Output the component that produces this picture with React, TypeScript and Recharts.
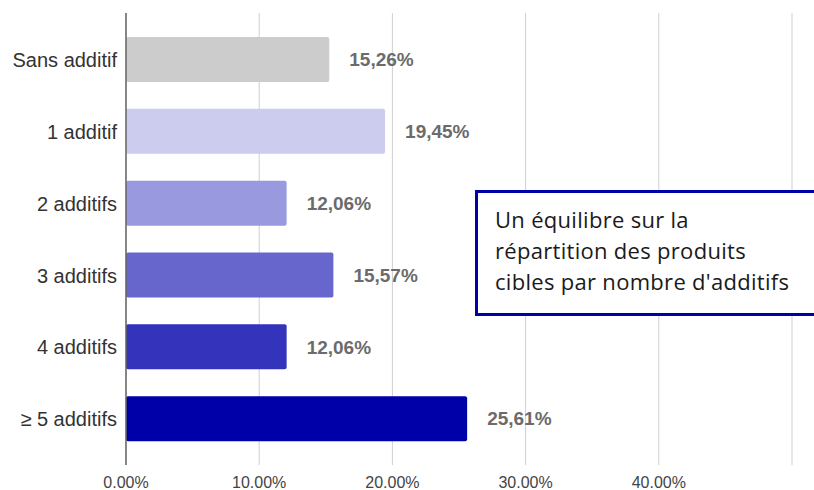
import { BarChart, Bar, XAxis, YAxis, CartesianGrid, Cell, LabelList } from "recharts";

const CATEGORIES = ["Sans additif", "1 additif", "2 additifs", "3 additifs", "4 additifs", "≥ 5 additifs"];
const SHARES = [15.26, 19.45, 12.06, 15.57, 12.06, 25.61];
const X_TICKS = [0, 10, 20, 30, 40, 50];
const X_TICK_LABELS = ["0.00%", "10.00%", "20.00%", "30.00%", "40.00%", ""];
const NOTE_LINES = ["Un équilibre sur la", "répartition des produits", "cibles par nombre d'additifs"];

const COLORS = [
  "#cccccc", // sans additif
  "#ccccef",
  "#9999e0",
  "#6666cc",
  "#3333bb",
  "#0000a8",
];

const data = CATEGORIES.map((name, i) => ({ name, share: SHARES[i] }));

export default function App() {
  return (
    <div style={{ position: "absolute", left: 0, top: 0, width: 814, height: 490, background: "#fff", overflow: "hidden" }}>
      <BarChart
        width={814}
        height={490}
        data={data}
        layout="vertical"
        margin={{ top: 13, right: 22, bottom: 0, left: 0 }}
      >
        <CartesianGrid horizontal={false} stroke="#cfcfcf" />
        <XAxis
          type="number"
          domain={[0, 50]}
          ticks={X_TICKS}
          tickFormatter={(v: number) => X_TICK_LABELS[X_TICKS.indexOf(v)] ?? ""}
          axisLine={false}
          tickLine={false}
          tickMargin={6}
          height={25}
          interval={0}
          tick={{ fontSize: 16, fill: "#444", fontFamily: "Liberation Sans, Arial, sans-serif" }}
        />
        <YAxis
          type="category"
          dataKey="name"
          width={126}
          padding={{ top: 11, bottom: 10 }}
          axisLine={{ stroke: "#666", strokeWidth: 1.5 }}
          tickLine={false}
          tickMargin={3}
          tick={{ fontSize: 20, fill: "#333", fontFamily: "Liberation Sans, Arial, sans-serif" }}
        />
        <Bar dataKey="share" barSize={45} radius={2} isAnimationActive={false}>
          {data.map((_, index) => (
            <Cell key={`cell-${index}`} fill={COLORS[index % COLORS.length]} />
          ))}
          <LabelList
            dataKey="share"
            position="right"
            offset={20}
            formatter={(v: number) => `${v.toFixed(2).replace(".", ",")}%`}
            style={{ fontSize: 19, fontWeight: 700, fill: "#6b6b6b", fontFamily: "Liberation Sans, Arial, sans-serif" }}
          />
        </Bar>
      </BarChart>
      <div
        style={{
          position: "absolute",
          left: 475,
          top: 190,
          width: 360,
          height: 126,
          boxSizing: "border-box",
          border: "3px solid #0000a8",
          background: "#fff",
          padding: "11px 0 0 17px",
          fontFamily: "'Open Sans', sans-serif",
          fontSize: 22,
          letterSpacing: 0.3,
          lineHeight: "31px",
          color: "#1a1a1a",
        }}
      >
        {NOTE_LINES.map((line) => (
          <div key={line}>{line}</div>
        ))}
      </div>
    </div>
  );
}
